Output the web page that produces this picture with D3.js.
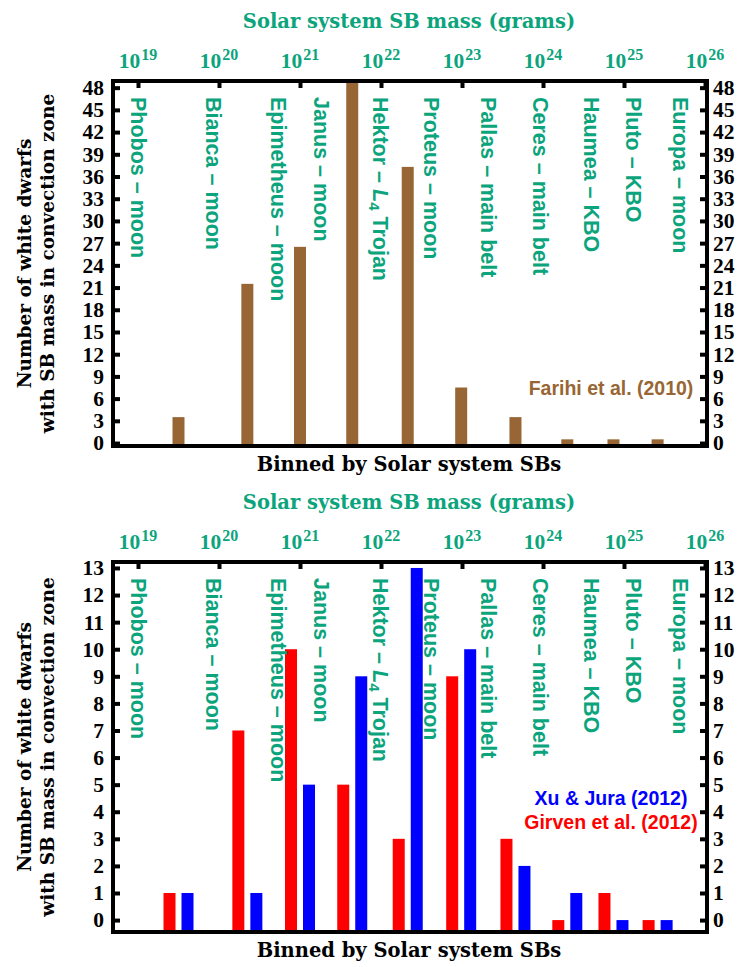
<!DOCTYPE html>
<html>
<head>
<meta charset="utf-8">
<script src="https://cdn.jsdelivr.net/npm/d3@7"></script>
<style>
  body { margin: 0; background: #fff; }
  svg { display: block; }
</style>
</head>
<body>
<svg id="chart" width="738" height="967"></svg>
<script>
// Solar system small bodies used as mass markers (log10 of mass in grams)
const bodyNames = ["Phobos – moon", "Bianca – moon", "Epimetheus – moon", "Janus – moon",
  "Hektor – L4 Trojan", "Proteus – moon", "Pallas – main belt", "Ceres – main belt",
  "Haumea – KBO", "Pluto – KBO", "Europa – moon"];
const bodyLogMass = [19.01, 19.93, 20.73, 21.26, 22.00, 22.63, 23.33, 23.97, 24.60, 25.12, 25.70];

// Mass bins lying between consecutive bodies (log10 grams, bin centre)
const binLogMass = [19.50, 20.35, 21.00, 21.645, 22.33, 22.99, 23.66, 24.30, 24.87, 25.415];

// Number of white dwarfs per bin
const farihiCounts = [3.5, 21.5, 26.5, 50, 37.3, 7.5, 3.5, 0.5, 0.5, 0.5];
const girvenCounts = [1, 7, 10, 5, 3, 9, 3, 0, 1, 0];
const xuJuraCounts = [1, 1, 5, 9, 13, 10, 2, 1, 0, 0];

// Axis ticks
const massExponents = [19, 20, 21, 22, 23, 24, 25, 26];
const topPanelTicks = [0, 3, 6, 9, 12, 15, 18, 21, 24, 27, 30, 33, 36, 39, 42, 45, 48];
const bottomPanelTicks = [0, 1, 2, 3, 4, 5, 6, 7, 8, 9, 10, 11, 12, 13];

const GREEN = "#0ba47c";
const BROWN = "#986634";
const RED = "#ff0000";
const BLUE = "#0000ff";
const SERIF = "'DejaVu Serif', serif";
const NUMFONT = "'Liberation Serif', 'Times New Roman', serif";
const SANS = "'Liberation Sans', Arial, sans-serif";

const svg = d3.select("#chart");
const left = 113, right = 707;

const x = d3.scaleLog().domain([1e19, 1e26]).range([138, 705]);

function drawPanel(opt) {
  const g = svg.append("g");
  const y = d3.scaleLinear().domain(opt.yDomain).range([opt.bottom, opt.top]);

  const clipId = "clip" + opt.id;
  svg.append("clipPath").attr("id", clipId)
    .append("rect").attr("x", left).attr("y", opt.top)
    .attr("width", right - left).attr("height", opt.bottom - opt.top);

  // bars
  const bars = g.append("g").attr("clip-path", `url(#${clipId})`);
  opt.series.forEach(s => {
    bars.selectAll(null).data(s.values).enter().append("rect")
      .attr("x", (d, i) => x(Math.pow(10, binLogMass[i])) + s.offset - s.width / 2)
      .attr("width", s.width)
      .attr("y", d => y(d))
      .attr("height", d => y(opt.yDomain[0]) - y(d))
      .attr("fill", s.color);
  });

  // rotated body labels
  bodyNames.forEach((name, i) => {
    const t = g.append("text")
      .attr("transform", `translate(${x(Math.pow(10, bodyLogMass[i]))},${opt.top + 16}) rotate(90)`)
      .attr("dy", "0.35em")
      .attr("font-family", SANS).attr("font-weight", "bold").attr("font-size", 21.5)
      .attr("fill", GREEN);
    if (name.includes("L4")) {
      t.append("tspan").text("Hektor – ");
      t.append("tspan").attr("font-style", "italic").text("L");
      t.append("tspan").attr("font-size", 15).attr("dy", 4).text("4");
      t.append("tspan").attr("dy", -4).text(" Trojan");
    } else {
      t.text(name);
    }
  });

  // left and right count axes with inward ticks
  const yl = d3.axisLeft(y).tickValues(opt.ticks).tickSize(-7).tickPadding(9);
  const yr = d3.axisRight(y).tickValues(opt.ticks).tickSize(-7).tickPadding(6);
  [[yl, left], [yr, right]].forEach(([ax, px]) => {
    const a = g.append("g").attr("transform", `translate(${px},0)`).call(ax);
    a.select(".domain").remove();
    a.selectAll("line").attr("stroke", "#000").attr("stroke-width", 4);
    a.selectAll("text").attr("font-family", NUMFONT).attr("font-weight", "bold")
      .attr("font-size", 21.5).attr("fill", "#000");
  });

  // top mass axis
  const xa = d3.axisTop(x).tickValues(massExponents.map(e => Math.pow(10, e)))
    .tickSize(-7).tickFormat("");
  const xg = g.append("g").attr("transform", `translate(0,${opt.top})`).call(xa);
  xg.select(".domain").remove();
  xg.selectAll("line").attr("stroke", "#000").attr("stroke-width", 4);

  massExponents.forEach(e => {
    const t = g.append("text")
      .attr("x", x(Math.pow(10, e)))
      .attr("y", opt.top - 13)
      .attr("text-anchor", "middle")
      .attr("font-family", NUMFONT).attr("font-weight", "bold")
      .attr("fill", GREEN);
    t.append("tspan").attr("font-size", 21.5).text("10");
    t.append("tspan").attr("font-size", 16).attr("dy", -8).attr("dx", 1).text(e);
  });

  // frame
  g.append("rect").attr("x", left).attr("y", opt.top)
    .attr("width", right - left).attr("height", opt.bottom - opt.top)
    .attr("fill", "none").attr("stroke", "#000").attr("stroke-width", 4);

  // titles
  g.append("text").attr("x", 409).attr("y", opt.top - 53)
    .attr("text-anchor", "middle")
    .attr("font-family", SERIF).attr("font-weight", "bold").attr("font-size", 19.5)
    .attr("fill", GREEN).text("Solar system SB mass (grams)");

  g.append("text").attr("x", 409).attr("y", opt.bottom + 25)
    .attr("text-anchor", "middle")
    .attr("font-family", SERIF).attr("font-weight", "bold").attr("font-size", 19.5)
    .attr("fill", "#000").text("Binned by Solar system SBs");

  const cy = (opt.top + opt.bottom) / 2;
  const yt = g.append("text").attr("transform", `translate(0,${cy}) rotate(-90)`)
    .attr("text-anchor", "middle")
    .attr("font-family", SERIF).attr("font-weight", "bold").attr("font-size", 18.5)
    .attr("fill", "#000");
  yt.append("tspan").attr("x", 0).attr("y", 31).text("Number of white dwarfs");
  yt.append("tspan").attr("x", 0).attr("y", 54).text("with SB mass in convection zone");

  // legend
  opt.legend.forEach(l => {
    g.append("text").attr("x", 611).attr("y", l.y)
      .attr("text-anchor", "middle")
      .attr("font-family", SANS).attr("font-weight", "bold").attr("font-size", 19.5)
      .attr("fill", l.color).text(l.text);
  });
}

drawPanel({
  id: 1, top: 81, bottom: 446, yDomain: [-0.4, 48.9], ticks: topPanelTicks,
  series: [{ values: farihiCounts, color: BROWN, offset: 0, width: 12 }],
  legend: [{ text: "Farihi et al. (2010)", color: BROWN, y: 395 }]
});

drawPanel({
  id: 2, top: 562, bottom: 932, yDomain: [-0.44, 13.22], ticks: bottomPanelTicks,
  series: [
    { values: girvenCounts, color: RED, offset: -9, width: 12 },
    { values: xuJuraCounts, color: BLUE, offset: 9, width: 12 }
  ],
  legend: [
    { text: "Xu & Jura (2012)", color: BLUE, y: 805 },
    { text: "Girven et al. (2012)", color: RED, y: 829 }
  ]
});
</script>
</body>
</html>
